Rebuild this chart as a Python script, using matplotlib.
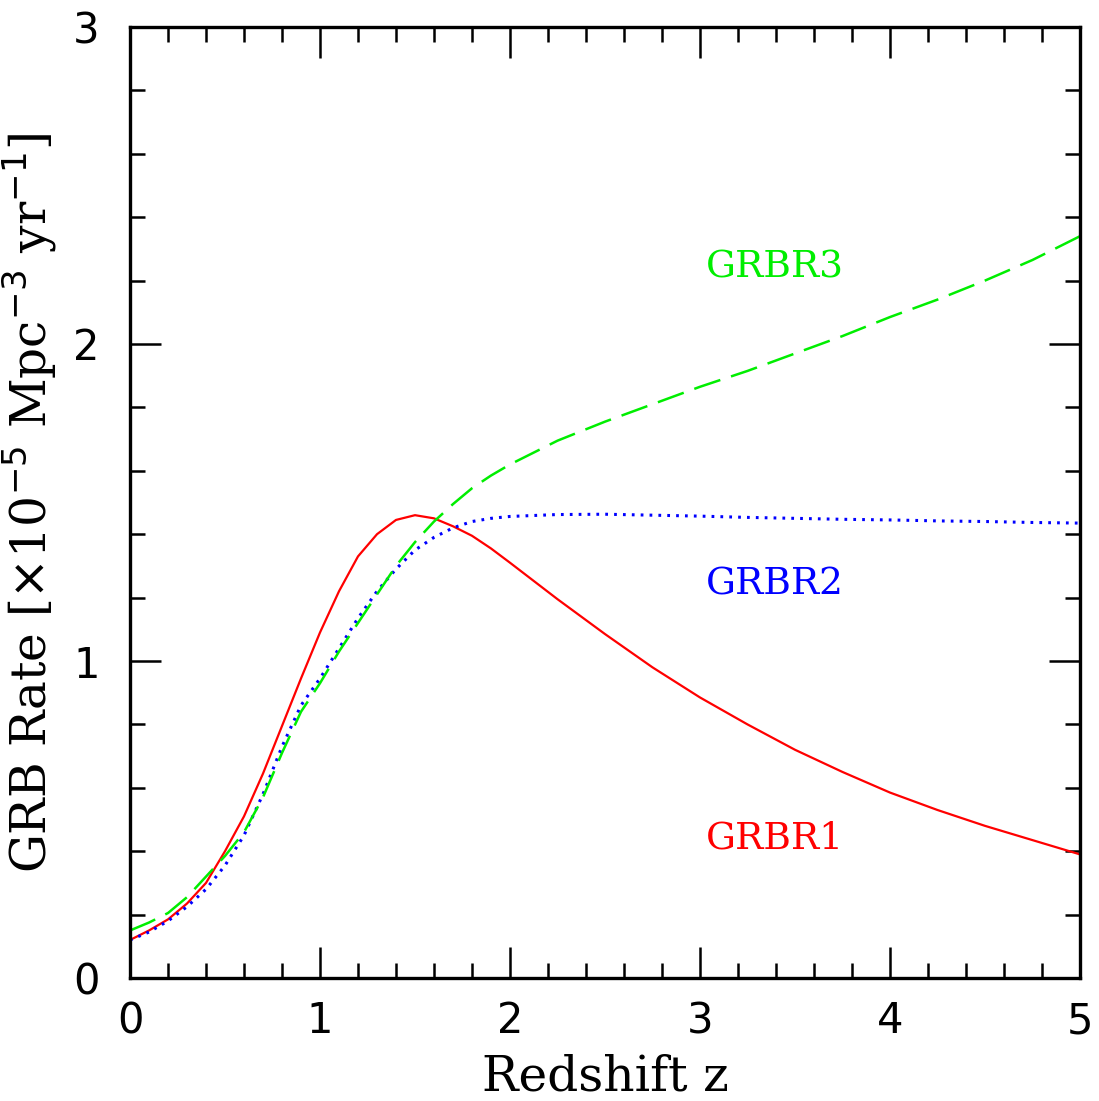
import matplotlib
matplotlib.use("Agg")
import matplotlib.pyplot as plt
from matplotlib.ticker import MultipleLocator

# redshift grid and rates (units of 1e-5 Mpc^-3 yr^-1)
z = [0.0, 0.1, 0.2, 0.3, 0.4, 0.5, 0.6, 0.7, 0.8, 0.9, 1.0, 1.1, 1.2, 1.3, 1.4,
     1.5, 1.6, 1.7, 1.8, 1.9, 2.0, 2.25, 2.5, 2.75, 3.0, 3.25, 3.5, 3.75, 4.0,
     4.25, 4.5, 4.75, 5.0]
grbr1 = [0.12, 0.15, 0.185, 0.235, 0.30, 0.40, 0.51, 0.645, 0.795, 0.945, 1.09,
         1.22, 1.33, 1.40, 1.445, 1.46, 1.45, 1.425, 1.395, 1.355, 1.31, 1.195,
         1.085, 0.98, 0.885, 0.80, 0.72, 0.65, 0.585, 0.53, 0.48, 0.435, 0.39]
grbr2 = [0.12, 0.145, 0.18, 0.225, 0.28, 0.355, 0.45, 0.58, 0.73, 0.86, 0.945,
         1.04, 1.135, 1.22, 1.29, 1.35, 1.39, 1.42, 1.44, 1.45, 1.456, 1.462,
         1.463, 1.46, 1.457, 1.453, 1.45, 1.447, 1.445, 1.442, 1.44, 1.437, 1.435]
grbr3 = [0.15, 0.175, 0.205, 0.255, 0.32, 0.385, 0.46, 0.57, 0.71, 0.84, 0.93,
         1.03, 1.12, 1.21, 1.30, 1.375, 1.44, 1.495, 1.545, 1.585, 1.62, 1.695,
         1.755, 1.81, 1.865, 1.915, 1.97, 2.025, 2.085, 2.14, 2.20, 2.265, 2.34]

labels = ["GRBR1", "GRBR2", "GRBR3"]
label_y = [0.44, 1.24, 2.24]
colors = ["#ff0000", "#0000ff", "#00ee00"]

fig = plt.figure(figsize=(10.99, 11.01), dpi=100)
ax = fig.add_axes([0.1183, 0.1117, 0.8644, 0.8638])

ax.plot(z, grbr1, color=colors[0], lw=1.6, ls="-")
ax.plot(z, grbr2, color=colors[1], lw=2.2, ls=(0, (0.9, 2.0)))
ax.plot(z, grbr3, color=colors[2], lw=1.8, ls=(0, (11, 4.5)))

serif = "DejaVu Serif"
for lab, yy, c in zip(labels, label_y, colors):
    ax.text(3.03, yy, lab, color=c, fontsize=27, family=serif,
            ha="left", va="center")

ax.set_xlim(0, 5)
ax.set_ylim(0, 3)
ax.xaxis.set_major_locator(MultipleLocator(1))
ax.xaxis.set_minor_locator(MultipleLocator(0.2))
ax.yaxis.set_major_locator(MultipleLocator(1))
ax.yaxis.set_minor_locator(MultipleLocator(0.2))
ax.tick_params(which="both", direction="in", top=True, right=True,
               labelsize=30, width=1.8)
ax.tick_params(axis="x", pad=16)
ax.tick_params(axis="y", pad=22)
ax.tick_params(which="major", length=22)
ax.tick_params(which="minor", length=11)
for s in ax.spines.values():
    s.set_linewidth(2.4)

ax.set_xlabel("Redshift z", fontsize=35, family=serif, labelpad=8)
ax.set_ylabel(r"GRB Rate [$\times$10$^{-5}$ Mpc$^{-3}$ yr$^{-1}$]",
              fontsize=35, family=serif, labelpad=10)

fig.savefig("out.png", dpi=100)
